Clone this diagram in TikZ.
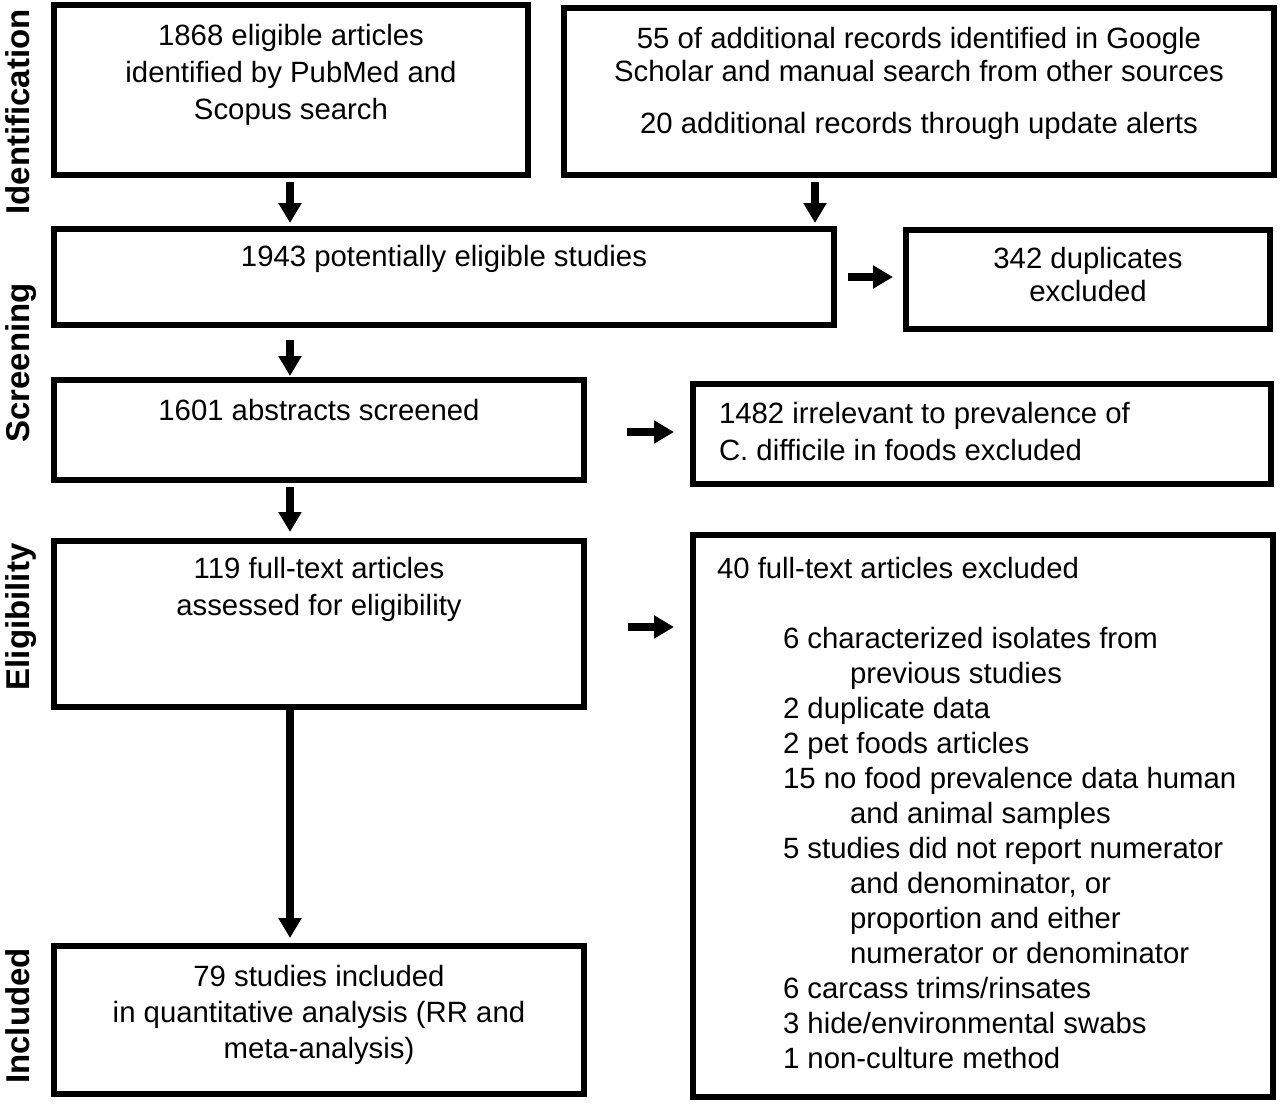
\documentclass[tikz,border=0pt]{standalone}
\usepackage{fontspec}
\setmainfont{Liberation Sans}
\usetikzlibrary{arrows.meta}
\newcommand{\tfont}[1]{\fontsize{22pt}{#1}\selectfont}
\newcommand{\tstrut}{\rule{0pt}{20pt}}
\begin{document}
\begin{tikzpicture}[x=0.75pt,y=-0.75pt,
  box/.style={draw=black, line width=4.5pt, inner sep=0pt, outer sep=2.25pt, rectangle},
  arr/.style={line width=5.5pt, -{Triangle[width=16.5pt,length=15pt]}},
  txt/.style={inner sep=0pt, outer sep=0pt, anchor=north, align=center},
  ltxt/.style={inner sep=0pt, outer sep=0pt, anchor=north west, align=left},
  lab/.style={rotate=90, anchor=base, inner sep=0pt, outer sep=0pt, font=\fontsize{24.75pt}{28pt}\selectfont\bfseries}]
\useasboundingbox (0,0) rectangle (1280,1103);
\fill[white] (0,0) rectangle (1280,1103);

% side labels
\node[lab] (lid) at (29,112) {Identification};
\node[lab] (lsc) at (29,363) {Screening};
\node[lab] (lel) at (29,617) {Eligibility};
\node[lab] (lin) at (29,1016) {Included};

% boxes
\node[box, minimum width=355.5pt, minimum height=127.5pt] (A) at (291,90) {};
\node[box, minimum width=532.5pt, minimum height=125.25pt] (B) at (919,91.5) {};
\node[box, minimum width=585pt, minimum height=72pt] (C) at (444,277) {};
\node[box, minimum width=273pt, minimum height=74.25pt] (D) at (1088,279.5) {};
\node[box, minimum width=397.5pt, minimum height=75pt] (E) at (319,430) {};
\node[box, minimum width=433.5pt, minimum height=75pt] (F) at (982,434) {};
\node[box, minimum width=397.5pt, minimum height=124.5pt] (G) at (319,624) {};
\node[box, minimum width=435pt, minimum height=421.5pt] (H) at (983,816) {};
\node[box, minimum width=397.5pt, minimum height=111pt] (I) at (319,1020) {};

% texts
\node[txt, font=\tfont{27.4pt}] (tA) at (291,19.3) {\tstrut 1868 eligible articles\\identified by PubMed and\\Scopus search};
\node[txt, font=\tfont{24.75pt}] (tB) at (919,22.3) {\tstrut 55 of additional records identified in Google\\Scholar and manual search from other sources\\[14.25pt]20 additional records through update alerts};
\node[txt, font=\tfont{27.4pt}] (tC) at (444,240.3) {\tstrut 1943 potentially eligible studies};
\node[txt, font=\tfont{24.75pt}] (tD) at (1088,242.3) {\tstrut 342 duplicates\\excluded};
\node[txt, font=\tfont{27.4pt}] (tE) at (319,394.3) {\tstrut 1601 abstracts screened};
\node[ltxt, font=\tfont{27.75pt}] (tF) at (719,397.3) {\tstrut 1482 irrelevant to prevalence of\\C. difficile in foods excluded};
\node[txt, font=\tfont{27.75pt}] (tG) at (319,552.3) {\tstrut 119 full-text articles\\assessed for eligibility};
\node[ltxt, font=\tfont{27.4pt}] (tH) at (717,552.3) {\tstrut 40 full-text articles excluded};
\node[ltxt, font=\tfont{26.25pt}] (tHl) at (783,622.3) {\tstrut 6 characterized isolates from\\\hspace*{50.25pt}previous studies\\2 duplicate data\\2 pet foods articles\\15 no food prevalence data human\\\hspace*{50.25pt}and animal samples\\5 studies did not report numerator\\\hspace*{50.25pt}and denominator, or\\\hspace*{50.25pt}proportion and either\\\hspace*{50.25pt}numerator or denominator\\6 carcass trims/rinsates\\3 hide/environmental swabs\\1 non-culture method};
\node[txt, font=\tfont{27pt}] (tI) at (319,960.3) {\tstrut 79 studies included\\in quantitative analysis (RR and\\meta-analysis)};

% arrows
\coordinate (col) at (290,0);
\draw[arr] ([yshift=-3pt]A.south -| col) -- ([yshift=2.25pt]C.north -| col);
\draw[arr] ([xshift=-78pt,yshift=-3pt]B.south) -- ([xshift=-78pt,yshift=2.25pt]B.south |- C.north);
\draw[arr] ([xshift=8.25pt]C.east) -- ([xshift=-7.5pt]C.east -| D.west);
\draw[arr] ([yshift=-9pt]C.south -| col) -- ([yshift=0.75pt]E.north -| col);
\draw[arr] ([xshift=30pt,yshift=-1.5pt]E.east) -- ([xshift=-12pt,yshift=-1.5pt]E.east -| F.west);
\draw[arr] ([yshift=-3pt]E.south -| col) -- ([yshift=4.5pt]G.north -| col);
\draw[arr] ([xshift=30.75pt,yshift=-2.25pt]G.east) -- ([xshift=-12pt,yshift=-2.25pt]G.east -| H.west);
\draw[arr] (G.south -| col) -- ([yshift=3.75pt]I.north -| col);
\end{tikzpicture}
\end{document}
